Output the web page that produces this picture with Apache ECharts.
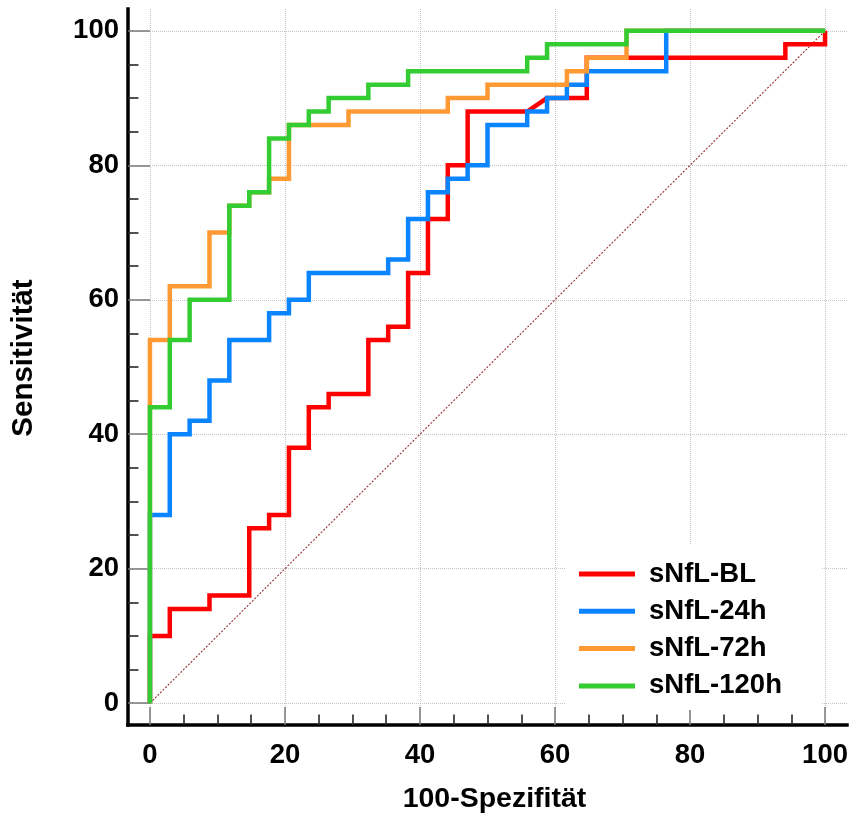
<!DOCTYPE html>
<html>
<head>
<meta charset="utf-8">
<script src="https://cdn.jsdelivr.net/npm/echarts@6/dist/echarts.min.js"></script>
<style>
  html, body { margin: 0; padding: 0; background: #ffffff; }
  #chart { width: 851px; height: 819px; }
</style>
</head>
<body>
<div id="chart"></div>
<script>
// ROC curves of serum neurofilament light chain at four time points
// (x = 100 - specificity, y = sensitivity, both in %)
const seriesNames = ['sNfL-BL', 'sNfL-24h', 'sNfL-72h', 'sNfL-120h'];

const majorTicks = [0, 20, 40, 60, 80, 100];
const minorTicks = [5, 10, 15, 25, 30, 35, 45, 50, 55, 65, 70, 75, 85, 90, 95];

const rocBL = [
  [0, 0], [0, 10], [2.94, 10], [2.94, 14], [8.82, 14], [8.82, 16], [14.71, 16], [14.71, 26],
  [17.65, 26], [17.65, 28], [20.59, 28], [20.59, 38], [23.53, 38], [23.53, 44], [26.47, 44],
  [26.47, 46], [32.35, 46], [32.35, 54], [35.29, 54], [35.29, 56], [38.24, 56], [38.24, 64],
  [41.18, 64], [41.18, 72], [44.12, 72], [44.12, 80], [47.06, 80], [47.06, 88], [55.88, 88],
  [58.82, 90], [64.71, 90], [64.71, 96], [94.12, 96], [94.12, 98], [100, 98], [100, 100]
];

const roc24h = [
  [0, 0], [0, 28], [2.94, 28], [2.94, 40], [5.88, 40], [5.88, 42], [8.82, 42], [8.82, 48],
  [11.76, 48], [11.76, 54], [17.65, 54], [17.65, 58], [20.59, 58], [20.59, 60], [23.53, 60],
  [23.53, 64], [35.29, 64], [35.29, 66], [38.24, 66], [38.24, 72], [41.18, 72], [41.18, 76],
  [44.12, 76], [44.12, 78], [47.06, 78], [47.06, 80], [50, 80], [50, 86], [55.88, 86],
  [55.88, 88], [58.82, 88], [58.82, 90], [61.76, 90], [61.76, 92], [64.71, 92], [64.71, 94],
  [76.47, 94], [76.47, 100], [100, 100]
];

const roc72h = [
  [0, 0], [0, 54], [2.94, 54], [2.94, 62], [8.82, 62], [8.82, 70], [11.76, 70], [11.76, 74],
  [14.71, 74], [14.71, 76], [17.65, 76], [17.65, 78], [20.59, 78], [20.59, 86], [29.41, 86],
  [29.41, 88], [44.12, 88], [44.12, 90], [50, 90], [50, 92], [61.76, 92], [61.76, 94],
  [64.71, 94], [64.71, 96], [70.59, 96], [70.59, 100], [100, 100]
];

const roc120h = [
  [0, 0], [0, 44], [2.94, 44], [2.94, 54], [5.88, 54], [5.88, 60], [11.76, 60], [11.76, 74],
  [14.71, 74], [14.71, 76], [17.65, 76], [17.65, 84], [20.59, 84], [20.59, 86], [23.53, 86],
  [23.53, 88], [26.47, 88], [26.47, 90], [32.35, 90], [32.35, 92], [38.24, 92], [38.24, 94],
  [55.88, 94], [55.88, 96], [58.82, 96], [58.82, 98], [70.59, 98], [70.59, 100], [100, 100]
];

// chance line
const diagonal = [[0, 0], [100, 100]];

const FONT = '"Liberation Sans", Arial, Helvetica, sans-serif';
const AXIS_MIN = -3.25;
const AXIS_MAX = 103.25;

function mainAxis(isX) {
  return {
    type: 'value',
    min: AXIS_MIN,
    max: AXIS_MAX,
    name: isX ? '100-Spezifität' : 'Sensitivität',
    nameLocation: 'middle',
    nameGap: isX ? 60 : 89,
    nameTextStyle: {
      fontFamily: FONT, fontSize: isX ? 28.5 : 29.5, fontWeight: 'bold', color: '#000',
      padding: isX ? [0, 0, 0, 14] : [0, 0, 0, 18]
    },
    axisLine: { show: true, onZero: false, lineStyle: { color: '#000', width: 3.5, cap: 'square' } },
    axisTick: {
      show: true, inside: true, length: isX ? 18 : 22,
      customValues: majorTicks,
      lineStyle: { color: '#7a7a7a', width: 1.5 }
    },
    axisLabel: {
      show: true, customValues: majorTicks,
      margin: isX ? 16 : 9,
      fontFamily: FONT, fontSize: 27.5, fontWeight: 'bold', color: '#000'
    },
    splitLine: { show: true, lineStyle: { color: '#c4c4c4', width: 1, type: [1, 1] } },
    minorTick: { show: false },
    minorSplitLine: { show: false }
  };
}

function minorAxis() {
  return {
    type: 'value',
    min: AXIS_MIN,
    max: AXIS_MAX,
    axisLine: { show: false, onZero: false },
    axisTick: {
      show: true, inside: true, length: 10.5,
      customValues: minorTicks,
      lineStyle: { color: '#262626', width: 1.6 }
    },
    axisLabel: { show: false },
    splitLine: { show: false }
  };
}

function rocSeries(name, data, color) {
  return {
    name: name,
    type: 'line',
    data: data,
    xAxisIndex: 0,
    yAxisIndex: 0,
    showSymbol: false,
    symbol: 'none',
    lineStyle: { color: color, width: 4.5, join: 'miter', cap: 'butt' },
    itemStyle: { color: color },
    emphasis: { disabled: true },
    animation: false
  };
}

const chart = echarts.init(document.getElementById('chart'), null, { renderer: 'canvas' });

chart.setOption({
  animation: false,
  backgroundColor: '#ffffff',
  grid: { left: 128, right: 3, top: 9, bottom: 90.5, containLabel: false },
  xAxis: [
    Object.assign(mainAxis(true), { position: 'bottom' }),
    Object.assign(minorAxis(), { position: 'bottom' })
  ],
  yAxis: [
    Object.assign(mainAxis(false), { position: 'left' }),
    Object.assign(minorAxis(), { position: 'left' })
  ],
  legend: {
    data: seriesNames,
    orient: 'vertical',
    left: 565,
    top: 545,
    padding: [14, 40, 9, 14],
    backgroundColor: '#ffffff',
    icon: 'rect',
    itemWidth: 56,
    itemHeight: 5,
    itemGap: 7.3,
    selectedMode: false,
    textStyle: {
      fontFamily: FONT, fontSize: 27.5, fontWeight: 'bold', color: '#000',
      lineHeight: 30, padding: [0, 0, 0, 9]
    }
  },
  series: [
    {
      name: 'diagonal',
      type: 'line',
      data: diagonal,
      symbol: 'none',
      silent: true,
      lineStyle: { color: '#9a3030', width: 1.1, type: [2, 1.6] },
      emphasis: { disabled: true }
    },
    rocSeries(seriesNames[0], rocBL, '#ff0000'),
    rocSeries(seriesNames[1], roc24h, '#0a84ff'),
    rocSeries(seriesNames[2], roc72h, '#ff9933'),
    rocSeries(seriesNames[3], roc120h, '#33cc33')
  ]
});
</script>
</body>
</html>
